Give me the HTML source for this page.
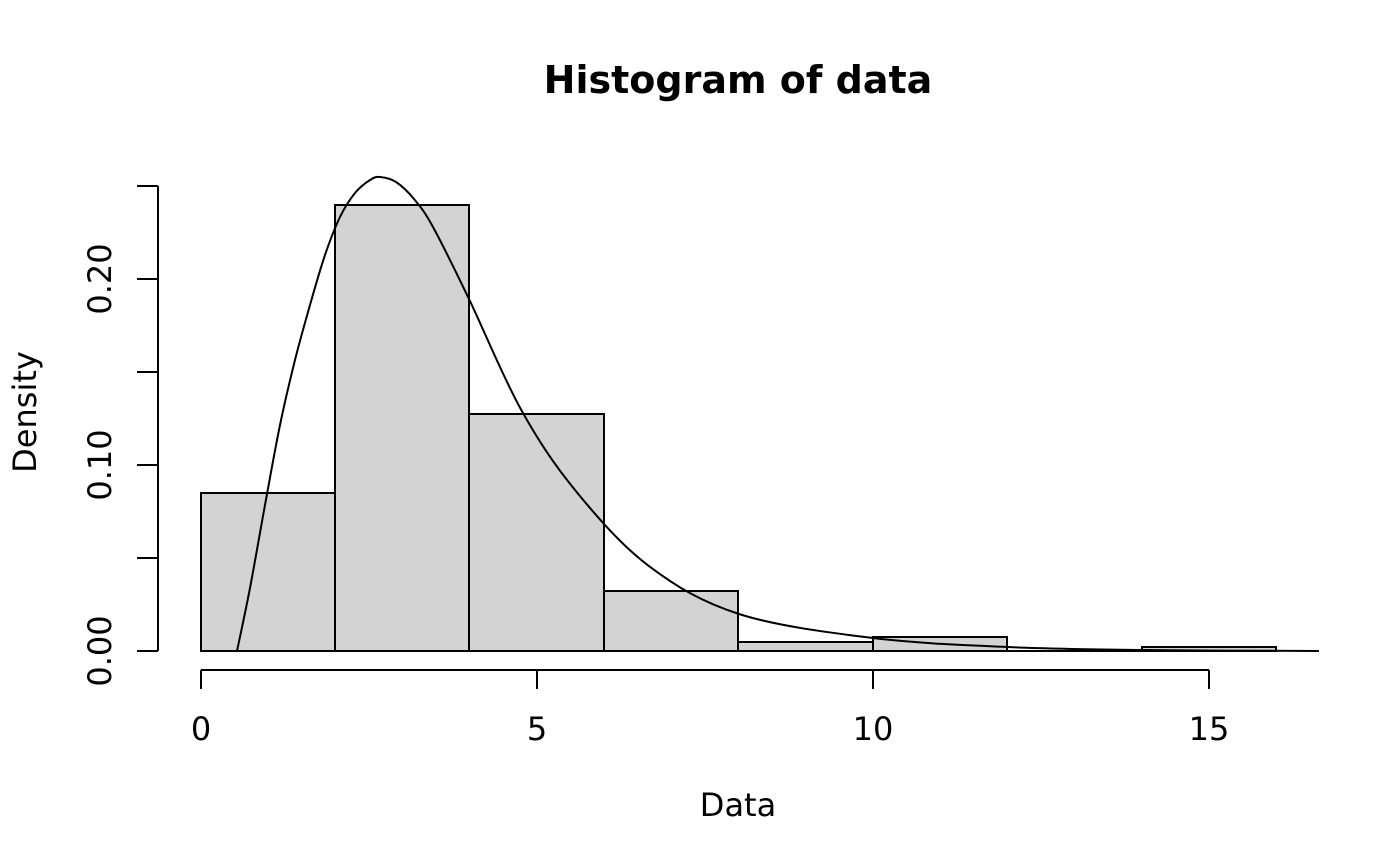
<!DOCTYPE html>
<html><head><style>body{margin:0;background:#fff}svg{display:block}text{font-family:"DejaVu Sans","Liberation Sans",sans-serif}</style></head>
<body>
<svg width="1400" height="866" viewBox="0 0 1400 866" xmlns="http://www.w3.org/2000/svg">
<text x="738" y="93" font-size="38" font-weight="bold" text-anchor="middle">Histogram of data</text>
<g fill="#d3d3d3" stroke="#000" stroke-width="2">
<rect x="201" y="493" width="134" height="158"/>
<rect x="335" y="205" width="134" height="446"/>
<rect x="469" y="414" width="135" height="237"/>
<rect x="604" y="591" width="134" height="60"/>
<rect x="738" y="642" width="135" height="9"/>
<rect x="873" y="637" width="134" height="14"/>
<rect x="1142" y="647" width="134" height="4"/>
</g>
<line x1="1007" y1="651" x2="1142" y2="651" stroke="#000" stroke-width="2"/>
<path id="curve" fill="none" stroke="#000" stroke-width="2" d=""/>
<g stroke="#000" stroke-width="2" fill="none">
<line x1="158" y1="186" x2="158" y2="651"/>
<line x1="137" y1="651" x2="158" y2="651"/>
<line x1="137" y1="558" x2="158" y2="558"/>
<line x1="137" y1="465" x2="158" y2="465"/>
<line x1="137" y1="372" x2="158" y2="372"/>
<line x1="137" y1="279" x2="158" y2="279"/>
<line x1="137" y1="186" x2="158" y2="186"/>
<line x1="201" y1="670" x2="1209" y2="670"/>
<line x1="201" y1="670" x2="201" y2="689"/>
<line x1="537" y1="670" x2="537" y2="689"/>
<line x1="873" y1="670" x2="873" y2="689"/>
<line x1="1209" y1="670" x2="1209" y2="689"/>
</g>
<g font-size="32" text-anchor="middle">
<text x="201" y="740">0</text>
<text x="537" y="740">5</text>
<text x="873" y="740">10</text>
<text x="1209" y="740">15</text>
<text x="738" y="816">Data</text>
<text transform="translate(111,651) rotate(-90)">0.00</text>
<text transform="translate(111,465) rotate(-90)">0.10</text>
<text transform="translate(111,279) rotate(-90)">0.20</text>
<text transform="translate(36,412) rotate(-90)">Density</text>
</g>
</svg>
<script>
var p=[[237,651],[250,588],[265,505],[280,425],[295,360],[310,305],[325,255],[340,217],[355,193],[370,180],[380,177],[396,182],[414,199],[433,227],[468.8,298.6],[521,409.5],[575.9,491.1],[649.1,566.2],[739,614],[873,638],[1008,647],[1142,650],[1319,651]];
var d="M"+p[0][0]+","+p[0][1];
for(var i=0;i<p.length-1;i++){var a=p[Math.max(i-1,0)],b=p[i],c=p[i+1],e=p[Math.min(i+2,p.length-1)];
d+=" C"+(b[0]+(c[0]-a[0])/6)+","+(b[1]+(c[1]-a[1])/6)+" "+(c[0]-(e[0]-b[0])/6)+","+(c[1]-(e[1]-b[1])/6)+" "+c[0]+","+c[1];}
document.getElementById("curve").setAttribute("d",d);
</script>
</body></html>
